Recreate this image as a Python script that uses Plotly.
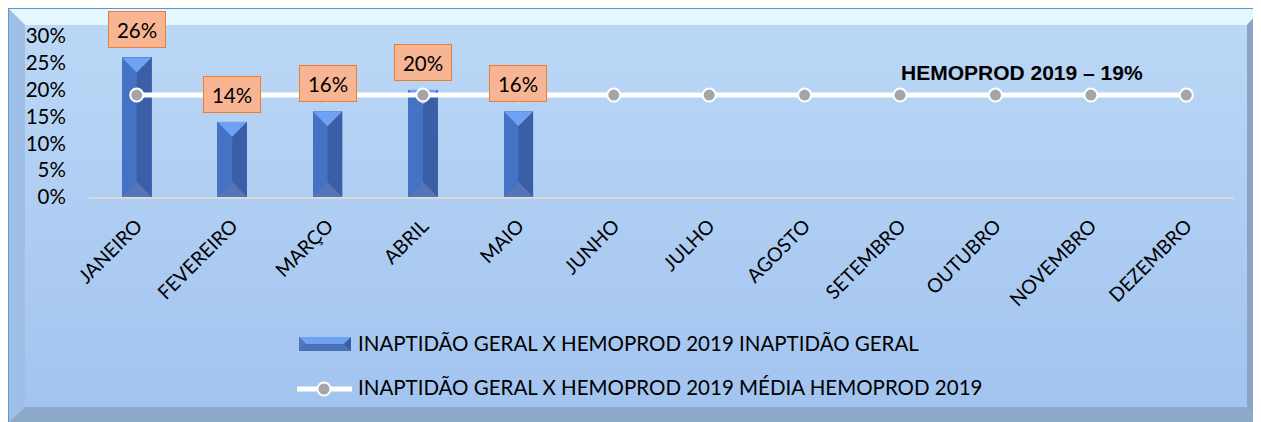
import base64
import plotly.graph_objects as go

# ---------------- data ----------------
months = ["JANEIRO", "FEVEREIRO", "MARÇO", "ABRIL", "MAIO", "JUNHO",
          "JULHO", "AGOSTO", "SETEMBRO", "OUTUBRO", "NOVEMBRO", "DEZEMBRO"]
inaptidao = [0.26, 0.14, 0.16, 0.20, 0.16, None, None, None, None, None, None, None]
media = [0.19] * 12
ytick_vals = [0.0, 0.05, 0.10, 0.15, 0.20, 0.25, 0.30]
series_bar_name = "INAPTIDÃO GERAL X HEMOPROD 2019 INAPTIDÃO GERAL"
series_line_name = "INAPTIDÃO GERAL X HEMOPROD 2019 MÉDIA HEMOPROD 2019"
media_label = "HEMOPROD 2019 – 19%"

# ---------------- geometry (page offset 8px from body margin) ----------------
OFF = 8
W, H = 1261 - OFF, 422 - OFF
ML, MR, MT, MB = 81, 27, 28, 225
PW, PH = W - ML - MR, H - MT - MB
YMAX = 0.30
BW = 0.31                      # bar width in category units
BEV = 15 / PH * YMAX           # bevel height in data units

FONT = "Lato"


def px(x):  # page pixel -> paper
    return (x - OFF - ML) / PW


def py(y):
    return (H - MB - (y - OFF)) / PH


xs = list(range(len(months)))

fig = go.Figure()

fig.add_trace(go.Bar(
    x=xs, y=inaptidao, width=BW, name=series_bar_name,
    marker=dict(color="#4472c4", line=dict(width=0)),
    showlegend=False, hoverinfo="y"))

right_x, right_y, top_x, top_y, bot_x, bot_y = [], [], [], [], [], []
for i, v in zip(xs, inaptidao):
    if v is None:
        continue
    h = BW / 2
    right_x += [i, i + h, i + h, i, i, None]
    right_y += [v - BEV, v, 0, BEV, v - BEV, None]
    top_x += [i - h, i + h, i, i - h, None]
    top_y += [v, v, v - BEV, v, None]
    bot_x += [i - h, i + h, i, i - h, None]
    bot_y += [0, 0, BEV, 0, None]

for fx, fy, col in [(right_x, right_y, "#3a5fa6"),
                    (top_x, top_y, "#6fa2f3"),
                    (bot_x, bot_y, "#5575b8")]:
    fig.add_trace(go.Scatter(x=fx, y=fy, fill="toself", fillcolor=col,
                             mode="lines", line=dict(width=0),
                             showlegend=False, hoverinfo="skip"))

fig.add_trace(go.Scatter(
    x=xs, y=media, mode="lines+markers", name=series_line_name,
    line=dict(color="#ffffff", width=5),
    marker=dict(size=13, color="#a5a5a5", line=dict(color="#ffffff", width=2)),
    showlegend=False))

annotations = []
for i, v in zip(xs, inaptidao):
    if v is None:
        continue
    annotations.append(dict(
        x=i, y=v, xref="x", yref="y", text=f"{round(v * 100)}%",
        showarrow=False, yanchor="bottom", yshift=9,
        font=dict(family=FONT, size=20.5, color="#000000"),
        bgcolor="#f7b594", bordercolor="#ed7d31", borderwidth=1,
        borderpad=1, width=54, height=33))

annotations.append(dict(
    x=px(1022), y=py(72), xref="paper", yref="paper", text=f"<b>{media_label}</b>",
    showarrow=False, xanchor="center", yanchor="middle",
    font=dict(family="Liberation Sans", size=21, color="#000000")))

for yy, txt in [(343, series_bar_name), (387, series_line_name)]:
    annotations.append(dict(
        x=px(356), y=py(yy), xref="paper", yref="paper", text=txt,
        showarrow=False, xanchor="left", yanchor="middle",
        font=dict(family=FONT, size=20.5, color="#000000")))

shapes = []


def poly(points, color):
    d = "M" + " L".join(f"{px(a)},{py(b)}" for a, b in points) + " Z"
    shapes.append(dict(type="path", xref="paper", yref="paper", path=d,
                       fillcolor=color, line=dict(width=0)))


lx0, lx1, ly0, ly1 = 299, 351, 337, 351
ym = (ly0 + ly1) / 2
poly([(lx0, ly0), (lx1, ly0), (lx1, ly1), (lx0, ly1)], "#4a70b8")
poly([(lx0, ly0), (lx1, ly0), (lx1 - 7, ym), (lx0 + 7, ym)], "#6fa2f3")
poly([(lx1, ly0), (lx1, ly1), (lx1 - 7, ym)], "#3a5fa6")
poly([(lx0, ly0), (lx0 + 7, ym), (lx0, ly1)], "#5575b8")

shapes.append(dict(type="line", xref="paper", yref="paper",
                   x0=px(297), x1=px(352), y0=py(389), y1=py(389),
                   line=dict(color="#ffffff", width=5)))
shapes.append(dict(type="circle", xref="paper", yref="paper",
                   x0=px(317.5), x1=px(330.5), y0=py(382.5), y1=py(395.5),
                   fillcolor="#a5a5a5", line=dict(color="#ffffff", width=2)))

# bevelled panel frame (figure coordinates)
svg = f'''<svg xmlns="http://www.w3.org/2000/svg" width="{W}" height="{H}" viewBox="0 0 {W} {H}">
<defs><linearGradient id="g" x1="0" y1="0" x2="0" y2="1">
<stop offset="0" stop-color="#bcd8f6"/><stop offset="1" stop-color="#a1c3ef"/></linearGradient></defs>
<rect x="0" y="0" width="{W}" height="{H}" fill="#5b9bd5"/>
<rect x="1" y="1" width="{W-1}" height="{H-1}" fill="url(#g)"/>
<polygon points="1,1 {W},1 {W-14},17 17,17" fill="#e4f6fe"/>
<polygon points="1,1 17,17 17,{H-15} 1,{H}" fill="#9fbfe6"/>
<polygon points="1,{H} 17,{H-15} {W-14},{H-15} {W},{H}" fill="#8eaacb"/>
<polygon points="{W},1 {W-14},17 {W-14},{H-15} {W},{H}" fill="#89a4c5"/>
</svg>'''
src = "data:image/svg+xml;base64," + base64.b64encode(svg.encode()).decode()

fig.update_layout(
    width=W, height=H,
    margin=dict(l=ML, r=MR, t=MT, b=MB, pad=0),
    paper_bgcolor="#ffffff", plot_bgcolor="rgba(0,0,0,0)",
    showlegend=False, bargap=0,
    font=dict(family=FONT, color="#000000"),
    images=[dict(source=src, xref="paper", yref="paper",
                 x=-ML / PW, y=1 + MT / PH, sizex=W / PW, sizey=H / PH,
                 xanchor="left", yanchor="top", sizing="stretch", layer="below")],
    annotations=annotations, shapes=shapes,
    xaxis=dict(range=[-0.5, 11.5], tickvals=xs, ticktext=months, tickangle=-45,
               showgrid=False, zeroline=False, showline=True, linecolor="#d9d9d9",
               linewidth=2, ticks="outside", ticklen=8, tickcolor="rgba(0,0,0,0)",
               tickfont=dict(family=FONT, size=19.5), fixedrange=True),
    yaxis=dict(range=[0, YMAX], tickvals=ytick_vals, tickformat=".0%",
               showgrid=False, zeroline=False, showline=False,
               ticks="outside", ticklen=18, tickcolor="rgba(0,0,0,0)",
               tickfont=dict(family=FONT, size=20.5), fixedrange=True),
)

fig.write_html("out.html")
